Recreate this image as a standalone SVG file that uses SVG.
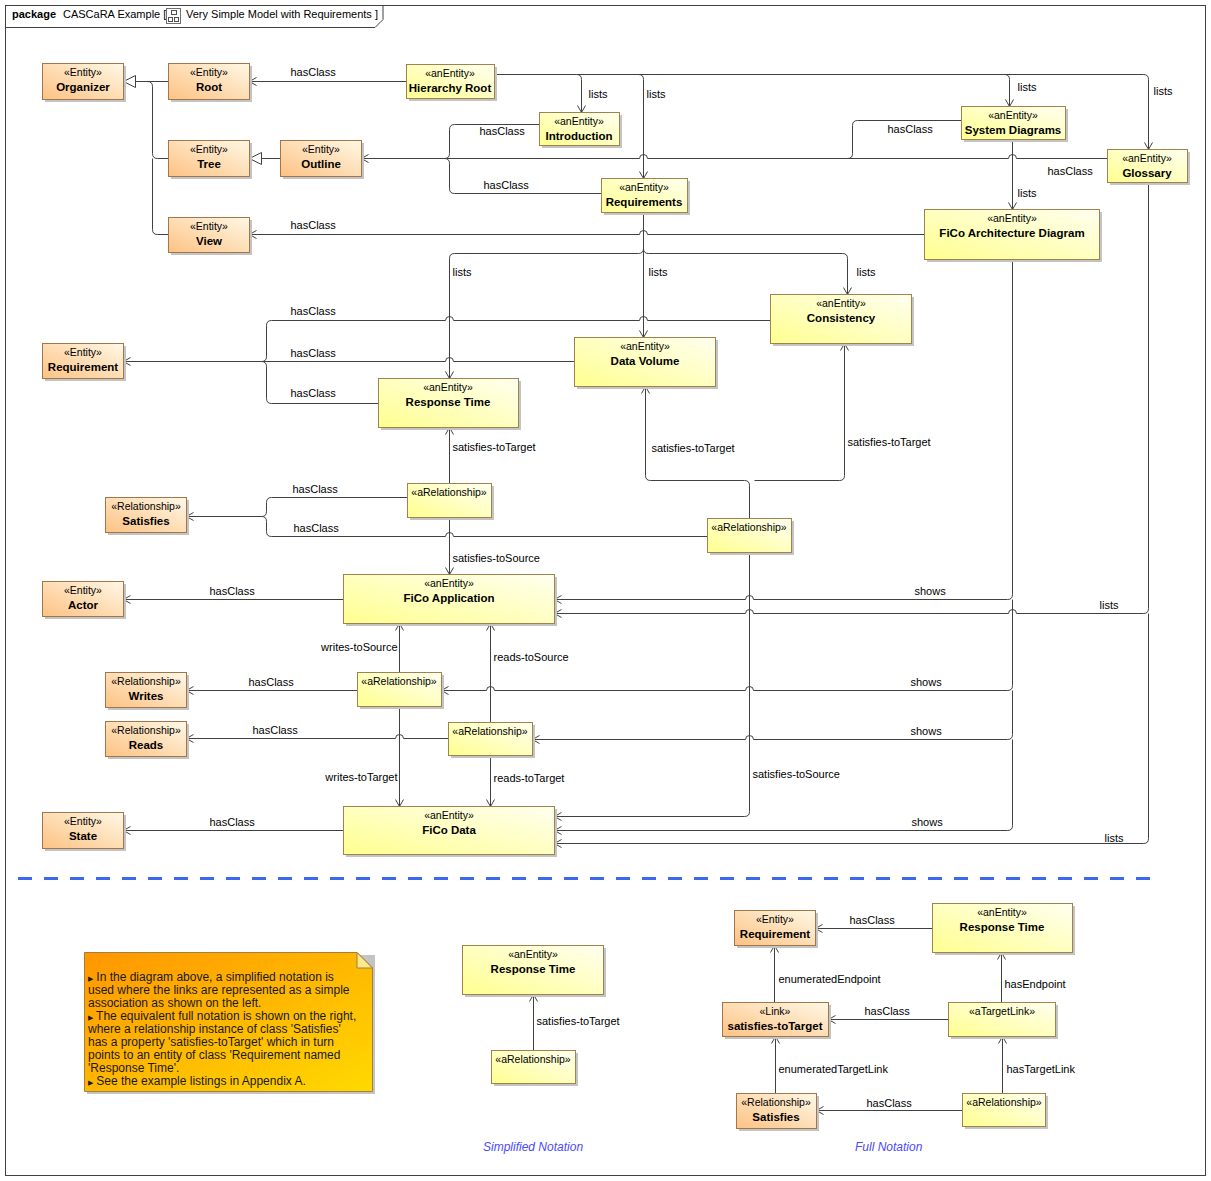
<svg xmlns="http://www.w3.org/2000/svg" width="1211" height="1181" viewBox="0 0 1211 1181">
<defs>
<style>
.c{fill:none;stroke:#404040;stroke-width:1}
.ar{marker-end:url(#arr)}
.tr{marker-end:url(#tri)}
.sh{fill:#c4c4c4}
.bo{fill:url(#gO);stroke:#a0764a;stroke-width:1}
.by{fill:url(#gY);stroke:#a0824f;stroke-width:1}
.st{font-family:"Liberation Sans",Arial,sans-serif;font-size:10.5px;text-anchor:middle;fill:#000}
.nm{font-family:"Liberation Sans",Arial,sans-serif;font-size:11.5px;font-weight:bold;text-anchor:middle;fill:#000}
.lb{font-family:"Liberation Sans",Arial,sans-serif;font-size:11px;fill:#000}
.le{font-family:"Liberation Sans",Arial,sans-serif;font-size:11px;fill:#000;text-anchor:end}
.it{font-family:"Liberation Sans",Arial,sans-serif;font-size:12px;font-style:italic;fill:#4a4aff}
.nt{font-family:"Liberation Sans",Arial,sans-serif;font-size:12px;fill:#1a1a1a}
.hd{font-family:"Liberation Sans",Arial,sans-serif;font-size:11px;fill:#000}
</style>
<linearGradient id="gO" x1="0" y1="1" x2="1" y2="0"><stop offset="0" stop-color="#fdc283"/><stop offset="1" stop-color="#fff8e6"/></linearGradient>
<linearGradient id="gY" x1="0" y1="1" x2="1" y2="0"><stop offset="0" stop-color="#ffff90"/><stop offset="1" stop-color="#fffff0"/></linearGradient>
<linearGradient id="gN" x1="0" y1="0" x2="1" y2="1"><stop offset="0" stop-color="#ff9600"/><stop offset="1" stop-color="#ffd900"/></linearGradient>
<marker id="arr" markerUnits="userSpaceOnUse" markerWidth="10" markerHeight="10" refX="7" refY="4" orient="auto" overflow="visible"><path d="M0,0 L7,4 L0,8" fill="none" stroke="#404040" stroke-width="1"/></marker>
<marker id="tri" markerUnits="userSpaceOnUse" markerWidth="14" markerHeight="14" refX="12" refY="6" orient="auto" overflow="visible"><path d="M0,0 L12,6 L0,12 Z" fill="#fff" stroke="#404040" stroke-width="1"/></marker>
</defs>
<rect x="0" y="0" width="1211" height="1181" fill="#fff"/>
<g id="frame">
<rect x="5.5" y="5.5" width="1200" height="1170" fill="none" stroke="#404040"/>
<path d="M5.5,27.5 H375 L383,19.5 V5.5" fill="none" stroke="#404040"/>
<text class="hd" x="12" y="18" font-weight="bold">package</text>
<text class="hd" x="63" y="18">CASCaRA Example [</text>
<rect x="166.5" y="8.5" width="14" height="15" fill="#fff" stroke="#707070"/>
<rect x="171.5" y="10.5" width="5" height="4" fill="none" stroke="#505050"/>
<rect x="168.5" y="17.5" width="4" height="4" fill="none" stroke="#505050"/>
<rect x="174.5" y="17.5" width="4" height="4" fill="none" stroke="#505050"/>
<text class="hd" x="186" y="18">Very Simple Model with Requirements ]</text>
</g>
<g id="connectors" transform="translate(0.5,0.5)">
<path class="c tr" d="M168,81 H123"/>
<path class="c" d="M168,158 H157 Q152,158 152,153 V86 Q152,81 147,81"/>
<path class="c" d="M168,234 H157 Q152,234 152,229 V158"/>
<path class="c tr" d="M280,158 H249"/>
<path class="c ar" d="M406,81 H249"/>
<path class="c ar" d="M494,74 H576 Q581,74 581,79 V112"/>
<path class="c ar" d="M638,74 Q643,74 643,79 V178"/>
<path class="c ar" d="M1004,74 Q1009,74 1009,79 V106"/>
<path class="c ar" d="M576,74 H1143 Q1148,74 1148,79 V149"/>
<path class="c ar" d="M1107,158 H1016 A4,4 0 0 0 1008,158 H647 A4,4 0 0 0 639,158 H361"/>
<path class="c" d="M961,120 H857 Q852,120 852,125 V153 Q852,158 847,158"/>
<path class="c" d="M539,124 H454 Q449,124 449,129 V153 Q449,158 444,158"/>
<path class="c" d="M601,193 H454 Q449,193 449,188 V163 Q449,158 444,158"/>
<path class="c ar" d="M1012,139 V209"/>
<path class="c ar" d="M924,234 H647 A4,4 0 0 0 639,234 H249"/>
<path class="c ar" d="M643,212 V337"/>
<path class="c ar" d="M643,248 Q643,253 638,253 H454 Q449,253 449,258 V378"/>
<path class="c ar" d="M643,248 Q643,253 648,253 H842 Q847,253 847,258 V294"/>
<path class="c" d="M770,320 H647 A4,4 0 0 0 639,320 H453 A4,4 0 0 0 445,320 H271 Q266,320 266,325 V356 Q266,361 261,361"/>
<path class="c ar" d="M574,361 H453 A4,4 0 0 0 445,361 H123"/>
<path class="c" d="M378,403 H271 Q266,403 266,398 V366 Q266,361 261,361"/>
<path class="c ar" d="M449,483 V427"/>
<path class="c ar" d="M449,517 V574"/>
<path class="c" d="M407,497 H271 Q266,497 266,502 V511 Q266,516 261,516"/>
<path class="c ar" d="M707,536 H453 A4,4 0 0 0 445,536 H271 Q266,536 266,531 V521 Q266,516 261,516 H186"/>
<path class="c ar" d="M749,518 V485 Q749,480 744,480 H650 Q645,480 645,475 V386"/>
<path class="c ar" d="M754,480 H839 Q844,480 844,475 V343"/>
<path class="c ar" d="M749,552 V811 Q749,816 744,816 H554"/>
<path class="c ar" d="M1012,259 V594 Q1012,599 1007,599 H753 A4,4 0 0 0 745,599 H554"/>
<path class="c ar" d="M1012,599 V685 Q1012,690 1007,690 H753 A4,4 0 0 0 745,690 H494 A4,4 0 0 0 486,690 H441"/>
<path class="c ar" d="M1012,690 V734 Q1012,739 1007,739 H753 A4,4 0 0 0 745,739 H532"/>
<path class="c ar" d="M1012,739 V825 Q1012,830 1007,830 H554"/>
<path class="c ar" d="M1148,182 V608 Q1148,613 1143,613 H1016 A4,4 0 0 0 1008,613 H753 A4,4 0 0 0 745,613 H554"/>
<path class="c ar" d="M1148,613 V838 Q1148,843 1143,843 H554"/>
<path class="c ar" d="M343,599 H123"/>
<path class="c ar" d="M399,672 V623"/>
<path class="c ar" d="M490,722 V623"/>
<path class="c ar" d="M399,706 V806"/>
<path class="c ar" d="M490,755 V806"/>
<path class="c ar" d="M357,690 H186"/>
<path class="c ar" d="M448,738 H403 A4,4 0 0 0 395,738 H186"/>
<path class="c ar" d="M343,830 H123"/>
<path class="c ar" d="M533,1050 V994"/>
<path class="c ar" d="M932,928 H815"/>
<path class="c ar" d="M774,1002 V945"/>
<path class="c ar" d="M948,1019 H828"/>
<path class="c ar" d="M1001,1002 V952"/>
<path class="c ar" d="M775,1093 V1036"/>
<path class="c ar" d="M1002,1093 V1036"/>
<path class="c ar" d="M962,1110 H816"/>
<text class="lb" x="290" y="75">hasClass</text>
<text class="lb" x="588" y="97">lists</text>
<text class="lb" x="646" y="97">lists</text>
<text class="lb" x="1017" y="90">lists</text>
<text class="lb" x="1153" y="94">lists</text>
<text class="lb" x="479" y="134">hasClass</text>
<text class="lb" x="483" y="188">hasClass</text>
<text class="lb" x="887" y="132">hasClass</text>
<text class="lb" x="1047" y="174">hasClass</text>
<text class="lb" x="1017" y="196">lists</text>
<text class="lb" x="290" y="228">hasClass</text>
<text class="lb" x="452" y="275">lists</text>
<text class="lb" x="648" y="275">lists</text>
<text class="lb" x="856" y="275">lists</text>
<text class="lb" x="290" y="314">hasClass</text>
<text class="lb" x="290" y="356">hasClass</text>
<text class="lb" x="290" y="396">hasClass</text>
<text class="lb" x="452" y="450">satisfies-toTarget</text>
<text class="lb" x="292" y="492">hasClass</text>
<text class="lb" x="293" y="531">hasClass</text>
<text class="lb" x="651" y="451">satisfies-toTarget</text>
<text class="lb" x="847" y="445">satisfies-toTarget</text>
<text class="lb" x="452" y="561">satisfies-toSource</text>
<text class="lb" x="209" y="594">hasClass</text>
<text class="lb" x="914" y="594">shows</text>
<text class="lb" x="1099" y="608">lists</text>
<text class="le" x="397" y="650">writes-toSource</text>
<text class="lb" x="493" y="660">reads-toSource</text>
<text class="lb" x="248" y="685">hasClass</text>
<text class="lb" x="910" y="685">shows</text>
<text class="lb" x="252" y="733">hasClass</text>
<text class="lb" x="910" y="734">shows</text>
<text class="lb" x="752" y="777">satisfies-toSource</text>
<text class="le" x="397" y="780">writes-toTarget</text>
<text class="lb" x="493" y="781">reads-toTarget</text>
<text class="lb" x="209" y="825">hasClass</text>
<text class="lb" x="911" y="825">shows</text>
<text class="lb" x="1104" y="841">lists</text>
<text class="lb" x="536" y="1024">satisfies-toTarget</text>
<text class="lb" x="849" y="923">hasClass</text>
<text class="lb" x="778" y="982">enumeratedEndpoint</text>
<text class="lb" x="864" y="1014">hasClass</text>
<text class="lb" x="1004" y="987">hasEndpoint</text>
<text class="lb" x="778" y="1072">enumeratedTargetLink</text>
<text class="lb" x="1006" y="1072">hasTargetLink</text>
<text class="lb" x="866" y="1106">hasClass</text>
</g>
<g id="n-organizer"><rect class="sh" x="45" y="66" width="81" height="36"/><rect class="bo" x="42.5" y="63.5" width="81" height="36"/><text class="st" x="83" y="76">«Entity»</text><text class="nm" x="83" y="91">Organizer</text></g>
<g id="n-root"><rect class="sh" x="171" y="66" width="81" height="36"/><rect class="bo" x="168.5" y="63.5" width="81" height="36"/><text class="st" x="209" y="76">«Entity»</text><text class="nm" x="209" y="91">Root</text></g>
<g id="n-tree"><rect class="sh" x="171" y="143" width="81" height="36"/><rect class="bo" x="168.5" y="140.5" width="81" height="36"/><text class="st" x="209" y="153">«Entity»</text><text class="nm" x="209" y="168">Tree</text></g>
<g id="n-outline"><rect class="sh" x="283" y="143" width="81" height="36"/><rect class="bo" x="280.5" y="140.5" width="81" height="36"/><text class="st" x="321" y="153">«Entity»</text><text class="nm" x="321" y="168">Outline</text></g>
<g id="n-view"><rect class="sh" x="171" y="220" width="81" height="35"/><rect class="bo" x="168.5" y="217.5" width="81" height="35"/><text class="st" x="209" y="230">«Entity»</text><text class="nm" x="209" y="245">View</text></g>
<g id="n-hierarchyroot"><rect class="sh" x="409" y="67" width="88" height="34"/><rect class="by" x="406.5" y="64.5" width="88" height="34"/><text class="st" x="450" y="77">«anEntity»</text><text class="nm" x="450" y="92">Hierarchy Root</text></g>
<g id="n-introduction"><rect class="sh" x="542" y="115" width="80" height="33"/><rect class="by" x="539.5" y="112.5" width="80" height="33"/><text class="st" x="579" y="125">«anEntity»</text><text class="nm" x="579" y="140">Introduction</text></g>
<g id="n-requirements"><rect class="sh" x="604" y="181" width="86" height="34"/><rect class="by" x="601.5" y="178.5" width="86" height="34"/><text class="st" x="644" y="191">«anEntity»</text><text class="nm" x="644" y="206">Requirements</text></g>
<g id="n-systemdiagrams"><rect class="sh" x="964" y="109" width="104" height="33"/><rect class="by" x="961.5" y="106.5" width="104" height="33"/><text class="st" x="1013" y="119">«anEntity»</text><text class="nm" x="1013" y="134">System Diagrams</text></g>
<g id="n-glossary"><rect class="sh" x="1110" y="152" width="80" height="33"/><rect class="by" x="1107.5" y="149.5" width="80" height="33"/><text class="st" x="1147" y="162">«anEntity»</text><text class="nm" x="1147" y="177">Glossary</text></g>
<g id="n-ficoarch"><rect class="sh" x="927" y="212" width="175" height="50"/><rect class="by" x="924.5" y="209.5" width="175" height="50"/><text class="st" x="1012" y="222">«anEntity»</text><text class="nm" x="1012" y="237">FiCo Architecture Diagram</text></g>
<g id="n-consistency"><rect class="sh" x="773" y="297" width="141" height="49"/><rect class="by" x="770.5" y="294.5" width="141" height="49"/><text class="st" x="841" y="307">«anEntity»</text><text class="nm" x="841" y="322">Consistency</text></g>
<g id="n-datavolume"><rect class="sh" x="577" y="340" width="141" height="49"/><rect class="by" x="574.5" y="337.5" width="141" height="49"/><text class="st" x="645" y="350">«anEntity»</text><text class="nm" x="645" y="365">Data Volume</text></g>
<g id="n-responsetime"><rect class="sh" x="381" y="381" width="140" height="49"/><rect class="by" x="378.5" y="378.5" width="140" height="49"/><text class="st" x="448" y="391">«anEntity»</text><text class="nm" x="448" y="406">Response Time</text></g>
<g id="n-requirement"><rect class="sh" x="45" y="346" width="81" height="35"/><rect class="bo" x="42.5" y="343.5" width="81" height="35"/><text class="st" x="83" y="356">«Entity»</text><text class="nm" x="83" y="371">Requirement</text></g>
<g id="n-arel1"><rect class="sh" x="410" y="486" width="84" height="34"/><rect class="by" x="407.5" y="483.5" width="84" height="34"/><text class="st" x="449" y="496">«aRelationship»</text></g>
<g id="n-arel2"><rect class="sh" x="710" y="521" width="84" height="34"/><rect class="by" x="707.5" y="518.5" width="84" height="34"/><text class="st" x="749" y="531">«aRelationship»</text></g>
<g id="n-satisfies"><rect class="sh" x="108" y="500" width="81" height="35"/><rect class="bo" x="105.5" y="497.5" width="81" height="35"/><text class="st" x="146" y="510">«Relationship»</text><text class="nm" x="146" y="525">Satisfies</text></g>
<g id="n-actor"><rect class="sh" x="45" y="584" width="81" height="35"/><rect class="bo" x="42.5" y="581.5" width="81" height="35"/><text class="st" x="83" y="594">«Entity»</text><text class="nm" x="83" y="609">Actor</text></g>
<g id="n-ficoapp"><rect class="sh" x="346" y="577" width="211" height="49"/><rect class="by" x="343.5" y="574.5" width="211" height="49"/><text class="st" x="449" y="587">«anEntity»</text><text class="nm" x="449" y="602">FiCo Application</text></g>
<g id="n-writes"><rect class="sh" x="108" y="675" width="81" height="35"/><rect class="bo" x="105.5" y="672.5" width="81" height="35"/><text class="st" x="146" y="685">«Relationship»</text><text class="nm" x="146" y="700">Writes</text></g>
<g id="n-reads"><rect class="sh" x="108" y="724" width="81" height="35"/><rect class="bo" x="105.5" y="721.5" width="81" height="35"/><text class="st" x="146" y="734">«Relationship»</text><text class="nm" x="146" y="749">Reads</text></g>
<g id="n-arelw"><rect class="sh" x="360" y="675" width="84" height="34"/><rect class="by" x="357.5" y="672.5" width="84" height="34"/><text class="st" x="399" y="685">«aRelationship»</text></g>
<g id="n-arelr"><rect class="sh" x="451" y="725" width="84" height="33"/><rect class="by" x="448.5" y="722.5" width="84" height="33"/><text class="st" x="490" y="735">«aRelationship»</text></g>
<g id="n-state"><rect class="sh" x="45" y="815" width="81" height="36"/><rect class="bo" x="42.5" y="812.5" width="81" height="36"/><text class="st" x="83" y="825">«Entity»</text><text class="nm" x="83" y="840">State</text></g>
<g id="n-ficodata"><rect class="sh" x="346" y="809" width="211" height="48"/><rect class="by" x="343.5" y="806.5" width="211" height="48"/><text class="st" x="449" y="819">«anEntity»</text><text class="nm" x="449" y="834">FiCo Data</text></g>
<g id="separator"><path d="M18,878.5 H1150" stroke="#3a68f0" stroke-width="3" stroke-dasharray="14,12" fill="none"/></g>
<g id="n-note">
<path d="M87,955 H375 V1094 H87 Z" fill="#c4c4c4"/>
<path d="M84.5,952.5 H357 L372.5,968 V1091.5 H84.5 Z" fill="url(#gN)" stroke="#a08040"/>
<path d="M357,952.5 V968 H372.5 Z" fill="#ffe98c" stroke="#a08040"/>
<text class="nt" x="88" y="981"><tspan font-size="7">▶</tspan> In the diagram above, a simplified notation is</text>
<text class="nt" x="88" y="994">used where the links are represented as a simple</text>
<text class="nt" x="88" y="1007">association as shown on the left.</text>
<text class="nt" x="88" y="1020"><tspan font-size="7">▶</tspan> The equivalent full notation is shown on the right,</text>
<text class="nt" x="88" y="1033">where a relationship instance of class 'Satisfies'</text>
<text class="nt" x="88" y="1046">has a property 'satisfies-toTarget' which in turn</text>
<text class="nt" x="88" y="1059">points to an entity of class 'Requirement named</text>
<text class="nt" x="88" y="1072">'Response Time'.</text>
<text class="nt" x="88" y="1085"><tspan font-size="7">▶</tspan> See the example listings in Appendix A.</text>
</g>
<g id="n-rt-simple"><rect class="sh" x="465" y="948" width="141" height="49"/><rect class="by" x="462.5" y="945.5" width="141" height="49"/><text class="st" x="533" y="958">«anEntity»</text><text class="nm" x="533" y="973">Response Time</text></g>
<g id="n-arel-simple"><rect class="sh" x="494" y="1053" width="84" height="33"/><rect class="by" x="491.5" y="1050.5" width="84" height="33"/><text class="st" x="533" y="1063">«aRelationship»</text></g>
<g id="n-req-full"><rect class="sh" x="737" y="913" width="81" height="35"/><rect class="bo" x="734.5" y="910.5" width="81" height="35"/><text class="st" x="775" y="923">«Entity»</text><text class="nm" x="775" y="938">Requirement</text></g>
<g id="n-rt-full"><rect class="sh" x="935" y="906" width="140" height="49"/><rect class="by" x="932.5" y="903.5" width="140" height="49"/><text class="st" x="1002" y="916">«anEntity»</text><text class="nm" x="1002" y="931">Response Time</text></g>
<g id="n-link"><rect class="sh" x="725" y="1005" width="106" height="34"/><rect class="bo" x="722.5" y="1002.5" width="106" height="34"/><text class="st" x="775" y="1015">«Link»</text><text class="nm" x="775" y="1030">satisfies-toTarget</text></g>
<g id="n-atargetlink"><rect class="sh" x="951" y="1005" width="107" height="34"/><rect class="by" x="948.5" y="1002.5" width="107" height="34"/><text class="st" x="1002" y="1015">«aTargetLink»</text></g>
<g id="n-satisfies-full"><rect class="sh" x="739" y="1096" width="80" height="35"/><rect class="bo" x="736.5" y="1093.5" width="80" height="35"/><text class="st" x="776" y="1106">«Relationship»</text><text class="nm" x="776" y="1121">Satisfies</text></g>
<g id="n-arel-full"><rect class="sh" x="965" y="1096" width="83" height="33"/><rect class="by" x="962.5" y="1093.5" width="83" height="33"/><text class="st" x="1004" y="1106">«aRelationship»</text></g>
<g id="captions">
<text class="it" x="483" y="1151">Simplified Notation</text>
<text class="it" x="855" y="1151">Full Notation</text>
</g>
</svg>
